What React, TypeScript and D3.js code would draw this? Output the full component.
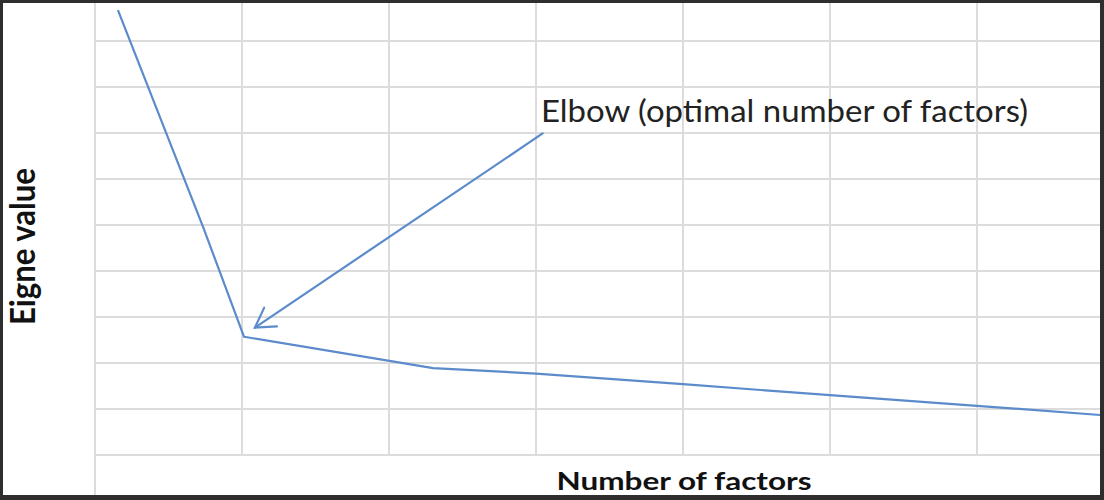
import React, { useEffect, useRef } from 'react';
import * as d3 from 'd3';

// gridline positions (category units on x, eigenvalue units on y)
const xGrid = [0, 1, 2, 3, 4, 5, 6];
const yGrid = [0, 1, 2, 3, 4, 5, 6, 7, 8, 9];

// scree curve
const factorPos = [0.156, 0.735, 1.014, 2.3, 3.0, 4.0, 5.0, 6.0, 6.837];
const eigenValues = [9.67, 4.96, 2.57, 1.89, 1.77, 1.54, 1.3, 1.07, 0.87];

// annotation arrow: from label to the elbow
const arrowFrom = [3.045, 6.99];
const arrowTo = [1.088, 2.77];
const labelAt = [3.034, 7.23];

const W = 1104;
const H = 500;

const App = () => {
  const ref = useRef<SVGSVGElement>(null);

  useEffect(() => {
    const svg = d3.select(ref.current);
    svg.selectAll('*').remove();

    const x = d3.scaleLinear().domain([0, 7]).range([95, 95 + 7 * 147]);
    const y = d3.scaleLinear().domain([0, 9]).range([455, 41]);

    svg.append('rect').attr('width', W).attr('height', H).attr('fill', '#fff');

    const grid = svg.append('g').attr('stroke', '#dcdcdc').attr('stroke-width', 2);
    // horizontal lines
    grid.selectAll('line.h')
      .data(yGrid)
      .join('line')
      .attr('class', 'h')
      .attr('x1', x(0))
      .attr('x2', W)
      .attr('y1', d => y(d))
      .attr('y2', d => y(d));
    // vertical lines (first one runs to the bottom)
    grid.selectAll('line.v')
      .data(xGrid)
      .join('line')
      .attr('class', 'v')
      .attr('x1', d => x(d))
      .attr('x2', d => x(d))
      .attr('y1', 0)
      .attr('y2', d => (d === 0 ? H : y(0)));

    const pts = factorPos.map((f, i) => [f, eigenValues[i]] as [number, number]);
    const line = d3.line<[number, number]>().x(d => x(d[0])).y(d => y(d[1]));

    svg.append('path')
      .datum(pts)
      .attr('d', line)
      .attr('fill', 'none')
      .attr('stroke', '#5b8bcb')
      .attr('stroke-width', 2.2)
      .attr('stroke-linejoin', 'round');

    // arrow
    const x1 = x(arrowFrom[0]), y1 = y(arrowFrom[1]);
    const x2 = x(arrowTo[0]), y2 = y(arrowTo[1]);
    const ang = Math.atan2(y1 - y2, x1 - x2);
    const headLen = 22;
    const spread = (31 * Math.PI) / 180;
    const head = [ang - spread, ang + spread].map(a => [x2 + headLen * Math.cos(a), y2 + headLen * Math.sin(a)]);

    const arrow = svg.append('g')
      .attr('stroke', '#5b8bcb')
      .attr('stroke-width', 2.2)
      .attr('fill', 'none')
      .attr('stroke-linecap', 'round');
    arrow.append('line').attr('x1', x1).attr('y1', y1).attr('x2', x2).attr('y2', y2);
    arrow.append('path')
      .attr('d', `M${head[0][0]},${head[0][1]}L${x2},${y2}L${head[1][0]},${head[1][1]}`);

    svg.append('text')
      .attr('x', x(labelAt[0]))
      .attr('y', y(labelAt[1]))
      .attr('font-family', 'Lato, "Open Sans", sans-serif')
      .attr('font-size', 30.5)
      .attr('fill', '#222')
      .attr('textLength', 487)
      .attr('lengthAdjust', 'spacingAndGlyphs')
      .text('Elbow (optimal number of factors)');

    // axis titles
    svg.append('text')
      .attr('x', 684)
      .attr('y', 489.5)
      .attr('text-anchor', 'middle')
      .attr('font-family', 'Lato, "Open Sans", sans-serif')
      .attr('font-weight', 'bold')
      .attr('font-size', 24)
      .attr('fill', '#111')
      .attr('textLength', 255)
      .attr('lengthAdjust', 'spacingAndGlyphs')
      .text('Number of factors');

    svg.append('text')
      .attr('transform', 'translate(34.5,246.5) rotate(-90)')
      .attr('text-anchor', 'middle')
      .attr('font-family', 'Lato, "Open Sans", sans-serif')
      .attr('font-weight', 'bold')
      .attr('font-size', 34)
      .attr('fill', '#111')
      .attr('textLength', 157)
      .attr('lengthAdjust', 'spacingAndGlyphs')
      .text('Eigne value');

    // dark frame
    svg.append('path')
      .attr('fill-rule', 'evenodd')
      .attr('fill', '#2e2e2e')
      .attr('d', `M0,0H${W}V${H}H0Z M3,3V495H1100V3Z`);
  }, []);

  return (
    <svg
      ref={ref}
      width={W}
      height={H}
      style={{ position: 'absolute', left: 0, top: 0, display: 'block' }}
    />
  );
};

export default App;
